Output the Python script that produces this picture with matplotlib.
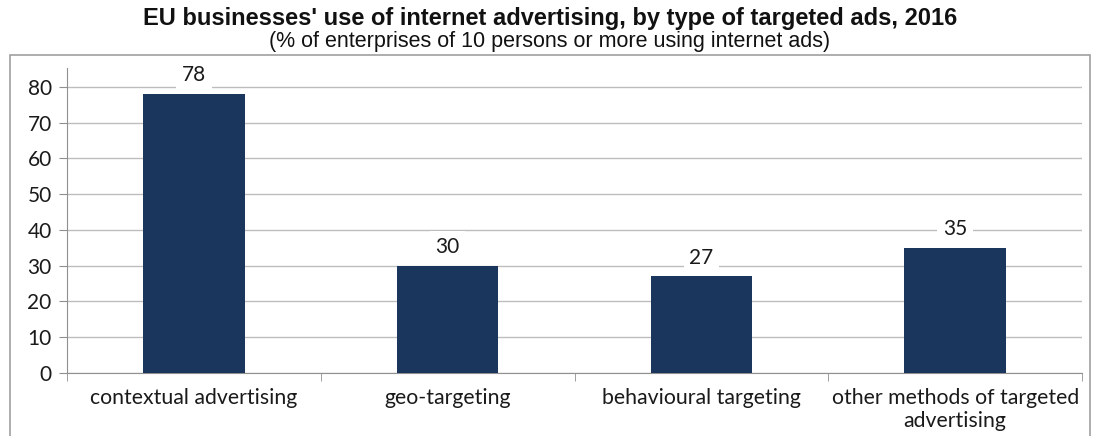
import matplotlib.pyplot as plt
from matplotlib.patches import Rectangle

categories = ['contextual advertising', 'geo-targeting', 'behavioural targeting',
              'other methods of targeted\nadvertising']
values = [78, 30, 27, 35]
y_ticks = [0, 10, 20, 30, 40, 50, 60, 70, 80]

bar_color = '#1b365d'
grid_color = '#bdbdbd'
text_color = '#1a1a1a'

fig = plt.figure(figsize=(11, 4.36), dpi=100)
fig.patch.set_facecolor('white')

# outer frame of the chart area
fig.patches.append(Rectangle((10 / 1100, -0.01), 1080 / 1100, 1 - 55 / 436 + 0.01,
                             transform=fig.transFigure, fill=False,
                             edgecolor='#a0a0a0', linewidth=1.2))

ax = fig.add_axes([67 / 1100, 1 - 373 / 436, 1015 / 1100, (373 - 68) / 436])
x = list(range(len(categories)))
ax.bar(x, values, width=0.4, color=bar_color, zorder=3)

ax.set_xlim(-0.5, len(categories) - 0.5)
ax.set_ylim(0, 85.3)
ax.set_yticks(y_ticks)
ax.yaxis.grid(True, color=grid_color, linewidth=1)
ax.set_axisbelow(True)

for s in ['top', 'right']:
    ax.spines[s].set_visible(False)
ax.spines['left'].set_color('#909090')
ax.spines['bottom'].set_color('#909090')

ax.set_xticks(x)
ax.set_xticklabels(categories, family='Lato', fontsize=15.3, color=text_color,
                   linespacing=1.2)
ax.tick_params(axis='x', length=0, pad=11)
ax.set_xticks([i - 0.5 for i in range(len(categories) + 1)], minor=True)
ax.tick_params(axis='x', which='minor', length=6, color='#909090')
ax.tick_params(axis='y', length=6, color='#909090', labelsize=15, pad=5)
for lab in ax.get_yticklabels():
    lab.set_family('Lato')
    lab.set_color(text_color)

for xi, v in zip(x, values):
    ax.text(xi, v + 5.3, str(v), ha='center', va='center', family='Lato',
            fontsize=15, color=text_color, zorder=4,
            bbox=dict(facecolor='white', edgecolor='none', pad=4))

fig.text(0.5, 1 - 18 / 436, "EU businesses' use of internet advertising, by type of targeted ads, 2016",
         ha='center', va='center', family='Liberation Sans', fontsize=17,
         fontweight='bold', color='#111111')
fig.text(0.5, 1 - 42 / 436, '(% of enterprises of 10 persons or more using internet ads)',
         ha='center', va='center', family='Liberation Sans', fontsize=15.5,
         color='#111111')

fig.savefig('out.png', dpi=100)
